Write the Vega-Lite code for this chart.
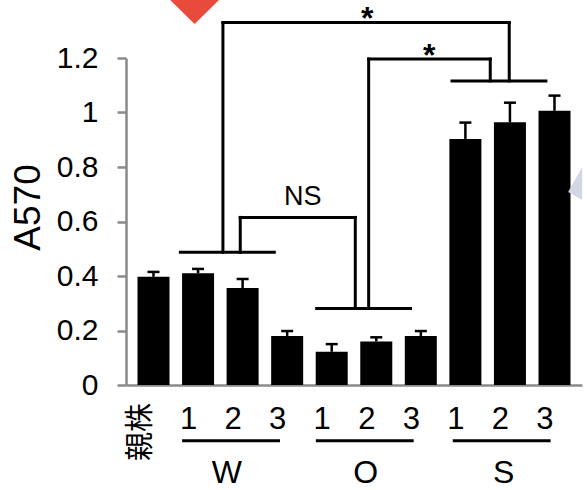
{
  "$schema": "https://vega.github.io/schema/vega-lite/v6.json",
  "width": 456,
  "height": 327,
  "autosize": {"type": "none"},
  "padding": {"left": 126, "top": 58, "right": 5, "bottom": 105},
  "background": "white",
  "config": {"view": {"stroke": null}, "font": "Liberation Sans"},
  "datasets": {
    "bars": [
      {"slot": 0, "name": "親株", "mean": 0.397, "upper": 0.415},
      {"slot": 1, "name": "W1", "mean": 0.410, "upper": 0.426},
      {"slot": 2, "name": "W2", "mean": 0.356, "upper": 0.389},
      {"slot": 3, "name": "W3", "mean": 0.180, "upper": 0.198},
      {"slot": 4, "name": "O1", "mean": 0.122, "upper": 0.150},
      {"slot": 5, "name": "O2", "mean": 0.160, "upper": 0.175},
      {"slot": 6, "name": "O3", "mean": 0.180, "upper": 0.198},
      {"slot": 7, "name": "S1", "mean": 0.903, "upper": 0.963},
      {"slot": 8, "name": "S2", "mean": 0.964, "upper": 1.036},
      {"slot": 9, "name": "S3", "mean": 1.006, "upper": 1.062}
    ],
    "segments": [
      {"x": 0.604, "x2": 2.711, "y": 0.487, "y2": 0.487},
      {"x": 3.662, "x2": 5.769, "y": 0.281, "y2": 0.281},
      {"x": 6.699, "x2": 8.807, "y": 1.116, "y2": 1.116},
      {"x": 1.558, "x2": 1.558, "y": 0.487, "y2": 1.330},
      {"x": 1.558, "x2": 7.984, "y": 1.330, "y2": 1.330},
      {"x": 7.984, "x2": 7.984, "y": 1.330, "y2": 1.116},
      {"x": 1.947, "x2": 1.947, "y": 0.487, "y2": 0.615},
      {"x": 1.947, "x2": 4.529, "y": 0.615, "y2": 0.615},
      {"x": 4.529, "x2": 4.529, "y": 0.615, "y2": 0.281},
      {"x": 4.829, "x2": 4.829, "y": 0.281, "y2": 1.196},
      {"x": 4.829, "x2": 7.558, "y": 1.196, "y2": 1.196},
      {"x": 7.558, "x2": 7.558, "y": 1.196, "y2": 1.116},
      {"x": 0.676, "x2": 2.805, "y": -0.2044, "y2": -0.2044},
      {"x": 3.677, "x2": 5.806, "y": -0.2044, "y2": -0.2044},
      {"x": 6.750, "x2": 8.879, "y": -0.2044, "y2": -0.2044}
    ],
    "labels": [
      {"kind": "ns", "text": "NS", "x": 3.352, "y": 0.661},
      {"kind": "star", "text": "*", "x": 4.796, "y": 1.305},
      {"kind": "star", "text": "*", "x": 6.190, "y": 1.169},
      {"kind": "group", "text": "W", "x": 1.646, "y": -0.361},
      {"kind": "group", "text": "O", "x": 4.763, "y": -0.361},
      {"kind": "group", "text": "S", "x": 7.859, "y": -0.361},
      {"kind": "parent", "text": "親株", "x": -0.285, "y": -0.1725}
    ],
    "deco": [
      {"kind": "tri", "x": 0.922, "y": 1.325},
      {"kind": "wedge", "x": 9.307, "y": 0.708}
    ]
  },
  "layer": [
    {
      "data": {"name": "bars"},
      "mark": {"type": "bar", "width": 32, "color": "black"},
      "encoding": {
        "x": {
          "field": "slot", "type": "quantitative", "title": null,
          "scale": {"domain": [-0.505, 9.505], "nice": false, "zero": false},
          "axis": {
            "values": [1, 2, 3, 4, 5, 6, 7, 8, 9],
            "labelExpr": "toString((datum.value - 1) % 3 + 1)",
            "ticks": false, "tickSize": 0, "grid": false,
            "domainColor": "#8a8a8a", "domainWidth": 2.5,
            "labelFontSize": 31, "labelColor": "black", "labelPadding": 19,
            "labelOffset": -10, "labelFlush": false, "labelOverlap": false
          }
        },
        "y": {
          "field": "mean", "type": "quantitative", "title": "A570",
          "scale": {"domain": [0, 1.2], "nice": false},
          "axis": {
            "values": [0, 0.2, 0.4, 0.6, 0.8, 1, 1.2],
            "labelExpr": "toString(round(datum.value * 10) / 10)",
            "grid": false, "tickSize": 9, "tickWidth": 2.5, "tickColor": "#8a8a8a",
            "domainColor": "#8a8a8a", "domainWidth": 2.5,
            "labelFontSize": 30, "labelColor": "black", "labelPadding": 19,
            "labelFlush": false, "labelOverlap": false,
            "titleFontSize": 37, "titleFontWeight": "normal", "titleColor": "black",
            "titleX": -87, "titleY": 149, "titleBaseline": "alphabetic", "titleAlign": "center", "titleAngle": 270
          }
        }
      }
    },
    {
      "data": {"name": "bars"},
      "mark": {"type": "rule", "color": "black", "strokeWidth": 2.5},
      "encoding": {
        "x": {"field": "slot", "type": "quantitative", "title": null, "scale": {"domain": [-0.505, 9.505], "nice": false, "zero": false}},
        "y": {"field": "mean", "type": "quantitative", "title": "A570", "scale": {"domain": [0, 1.2], "nice": false}},
        "y2": {"field": "upper"}
      }
    },
    {
      "data": {"name": "bars"},
      "mark": {"type": "point", "shape": "stroke", "size": 144, "filled": false, "stroke": "black", "strokeWidth": 2.5, "opacity": 1},
      "encoding": {
        "x": {"field": "slot", "type": "quantitative", "title": null, "scale": {"domain": [-0.505, 9.505], "nice": false, "zero": false}},
        "y": {"field": "upper", "type": "quantitative", "title": "A570", "scale": {"domain": [0, 1.2], "nice": false}}
      }
    },
    {
      "data": {"name": "segments"},
      "mark": {"type": "rule", "color": "black", "strokeWidth": 3, "strokeCap": "square", "clip": false},
      "encoding": {
        "x": {"field": "x", "type": "quantitative", "title": null, "scale": {"domain": [-0.505, 9.505], "nice": false, "zero": false}},
        "x2": {"field": "x2"},
        "y": {"field": "y", "type": "quantitative", "title": "A570", "scale": {"domain": [0, 1.2], "nice": false}},
        "y2": {"field": "y2"}
      }
    },
    {
      "data": {"name": "labels"},
      "transform": [{"filter": "datum.kind == 'ns'"}],
      "mark": {"type": "text", "fontSize": 27, "align": "center", "baseline": "alphabetic", "color": "black"},
      "encoding": {
        "x": {"field": "x", "type": "quantitative", "title": null, "scale": {"domain": [-0.505, 9.505], "nice": false, "zero": false}},
        "y": {"field": "y", "type": "quantitative", "title": "A570", "scale": {"domain": [0, 1.2], "nice": false}},
        "text": {"field": "text"}
      }
    },
    {
      "data": {"name": "labels"},
      "transform": [{"filter": "datum.kind == 'star'"}],
      "mark": {"type": "text", "fontSize": 32, "fontWeight": "bold", "align": "center", "baseline": "alphabetic", "color": "black"},
      "encoding": {
        "x": {"field": "x", "type": "quantitative", "title": null, "scale": {"domain": [-0.505, 9.505], "nice": false, "zero": false}},
        "y": {"field": "y", "type": "quantitative", "title": "A570", "scale": {"domain": [0, 1.2], "nice": false}},
        "text": {"field": "text"}
      }
    },
    {
      "data": {"name": "labels"},
      "transform": [{"filter": "datum.kind == 'group'"}],
      "mark": {"type": "text", "fontSize": 32, "align": "center", "baseline": "alphabetic", "color": "black"},
      "encoding": {
        "x": {"field": "x", "type": "quantitative", "title": null, "scale": {"domain": [-0.505, 9.505], "nice": false, "zero": false}},
        "y": {"field": "y", "type": "quantitative", "title": "A570", "scale": {"domain": [0, 1.2], "nice": false}},
        "text": {"field": "text"}
      }
    },
    {
      "data": {"name": "labels"},
      "transform": [{"filter": "datum.kind == 'parent'"}],
      "mark": {"type": "text", "fontSize": 29, "font": "Noto Sans CJK JP", "angle": 270, "align": "center", "baseline": "middle", "color": "black"},
      "encoding": {
        "x": {"field": "x", "type": "quantitative", "title": null, "scale": {"domain": [-0.505, 9.505], "nice": false, "zero": false}},
        "y": {"field": "y", "type": "quantitative", "title": "A570", "scale": {"domain": [0, 1.2], "nice": false}},
        "text": {"field": "text"}
      }
    },
    {
      "data": {"name": "deco"},
      "transform": [{"filter": "datum.kind == 'tri'"}],
      "mark": {"type": "point", "shape": "M-1.02,-1L1.02,-1L0,0Z", "size": 6400, "filled": true, "color": "#e84b3c", "opacity": 1, "strokeWidth": 0},
      "encoding": {
        "x": {"field": "x", "type": "quantitative", "title": null, "scale": {"domain": [-0.505, 9.505], "nice": false, "zero": false}},
        "y": {"field": "y", "type": "quantitative", "title": "A570", "scale": {"domain": [0, 1.2], "nice": false}}
      }
    },
    {
      "data": {"name": "deco"},
      "transform": [{"filter": "datum.kind == 'wedge'"}],
      "mark": {"type": "point", "shape": "M0,0L1.4,-2.5L1.4,0.8Z", "size": 400, "filled": true, "color": "#d3d7e3", "opacity": 1, "strokeWidth": 0},
      "encoding": {
        "x": {"field": "x", "type": "quantitative", "title": null, "scale": {"domain": [-0.505, 9.505], "nice": false, "zero": false}},
        "y": {"field": "y", "type": "quantitative", "title": "A570", "scale": {"domain": [0, 1.2], "nice": false}}
      }
    }
  ]
}
